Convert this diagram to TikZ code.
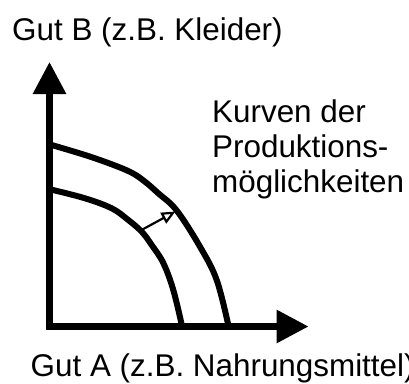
\documentclass[tikz,border=0pt]{standalone}
\usepackage{fontspec}
\setmainfont{Liberation Sans}
\usetikzlibrary{arrows.meta}
\begin{document}
\begin{tikzpicture}[x=1pt,y=-1pt,
  lbl/.style={inner sep=0pt,anchor=base west,font=\fontsize{31.4}{35}\selectfont},
  axis/.style={line width=6.2pt,line join=miter,{Triangle[length=32pt,width=32pt]}-{Triangle[length=32pt,width=32pt]}},
  ppf/.style={line width=6pt},
  shiftarrow/.style={line width=2.2pt,-{Triangle[open,length=14pt,width=12pt,fill=white]}}]
\useasboundingbox (0,0) rectangle (409,383);
\coordinate (ytip) at (49.5,62);
\coordinate (origin) at (49.5,326.5);
\coordinate (xtip) at (308.5,326.5);
\draw[axis] (ytip) -- (origin) -- (xtip);
% outer curve
\draw[ppf] plot[smooth,tension=0.6] coordinates{(50,144.5) (85,155) (111.7,164.3) (131.7,172.7) (145,181.7) (158.3,193.3) (176.7,210.5) (200,246.7) (216.7,280) (228.5,326)};
% inner curve
\draw[ppf] plot[smooth,tension=0.6] coordinates{(50,189.3) (85,198.3) (111.7,208.3) (128.3,220) (142,232) (151.7,245) (163.3,263) (173.3,290) (182,326)};
\coordinate (sfrom) at (141.5,230);
\coordinate (sto) at (175.5,211.5);
\draw[shiftarrow] (sfrom) -- (sto);
\node[lbl] (ylabel) at (12,40) {Gut B (z.B. Kleider)};
\node[lbl] (k1) at (212,122.5) {Kurven der};
\node[lbl] (k2) at (212,157.5) {Produktions-};
\node[lbl] (k3) at (212,192) {möglichkeiten};
\node[lbl] (xlabel) at (30.5,376) {Gut A (z.B. Nahrungsmittel)};
\end{tikzpicture}
\end{document}
